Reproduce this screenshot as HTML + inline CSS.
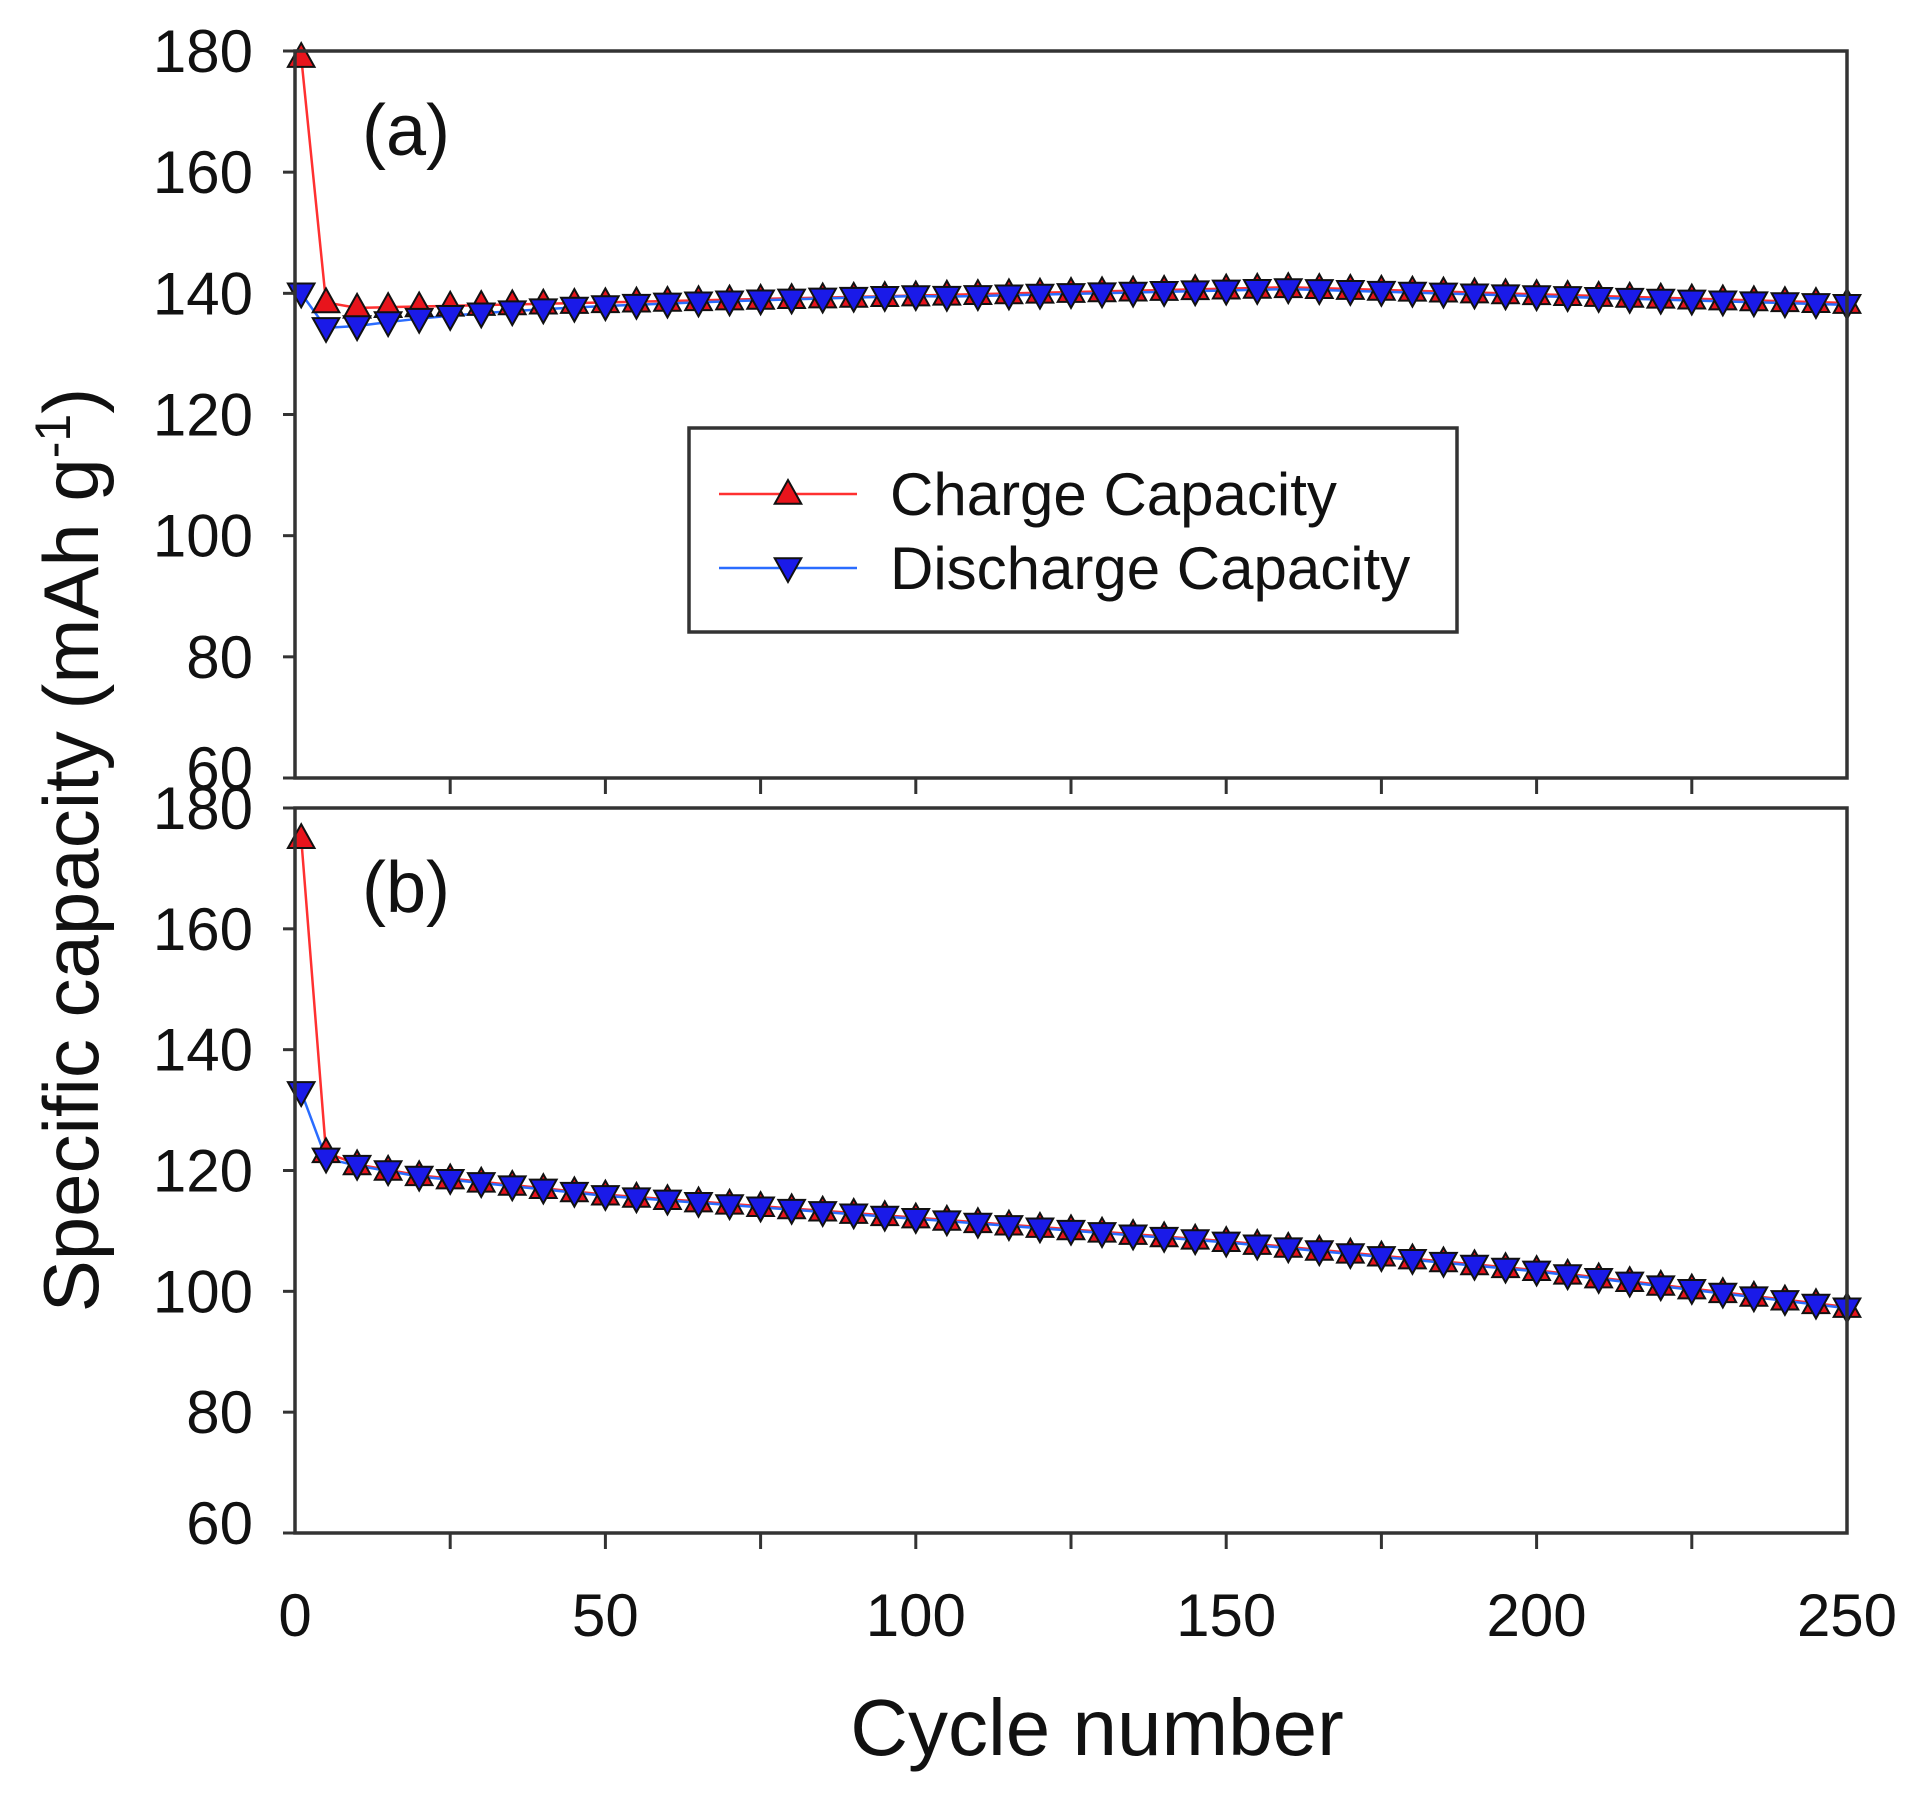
<!DOCTYPE html>
<html><head><meta charset="utf-8"><style>
html,body{margin:0;padding:0;background:#fff;}
svg{display:block;}
text{font-family:"Liberation Sans",sans-serif;fill:#111;}
</style></head><body>
<svg id="s" width="1912" height="1801" viewBox="0 0 1912 1801" xmlns="http://www.w3.org/2000/svg"></svg>
<script>
const s=document.getElementById('s');
let h='';
const X0=295,X1=1847;
const xs=c=>X0+c*(X1-X0)/250;
const panels=[{t:51,b:778,lab:'(a)'},{t:808,b:1533,lab:'(b)'}];
function ys(p,v){return p.b-(v-60)*(p.b-p.t)/120;}
const cyc=[1];for(let c=5;c<=250;c+=5)cyc.push(c);
function aC(c){if(c==1)return 179;if(c==5)return 138.5;if(c<=160)return 137.6+3.4*(c-10)/150;return 141-2.6*(c-160)/90;}
function aD(c){if(c==1)return 140;if(c==5)return 134.3;let base=aC(c);if(c<=100){return base-(3.0*Math.exp(-(c-10)/25));}return base-0.3;}
function bC(c){if(c==1)return 175;if(c==5)return 123;return lin(c);}
function bD(c){if(c==1)return 133;if(c==5)return 122;return lin(c)-0.2;}
function lin(c){const pts=[[10,121],[20,119.2],[50,116],[100,112.2],[150,108.3],[200,103.5],[250,97.4]];for(let i=1;i<pts.length;i++){if(c<=pts[i][0]){const[a,b]=[pts[i-1],pts[i]];return a[1]+(b[1]-a[1])*(c-a[0])/(b[0]-a[0]);}}return 97.4;}
const series=[[aC,aD],[bC,bD]];
function up(x,y,r){return `<polygon points="${x},${y-r} ${x-r*0.95},${y+r*0.7} ${x+r*0.95},${y+r*0.7}" fill="#e8141c" stroke="#111" stroke-width="2"/>`;}
function dn(x,y,r){return `<polygon points="${x},${y+r} ${x-r*0.95},${y-r*0.7} ${x+r*0.95},${y-r*0.7}" fill="#1a1ae8" stroke="#111" stroke-width="2"/>`;}
panels.forEach((p,i)=>{
  const [fc,fd]=series[i];
  let pc=cyc.map(c=>xs(c)+','+ys(p,fc(c))).join(' ');
  let pd=cyc.map(c=>xs(c)+','+ys(p,fd(c))).join(' ');
  h+=`<polyline points="${pc}" fill="none" stroke="#ff3030" stroke-width="2.5"/>`;
  h+=`<polyline points="${pd}" fill="none" stroke="#2a6cff" stroke-width="2.5"/>`;
  cyc.forEach(c=>{h+=up(xs(c),ys(p,fc(c)),14);});
  cyc.forEach(c=>{h+=dn(xs(c),ys(p,fd(c)),14);});
  h+=`<rect x="${X0}" y="${p.t}" width="${X1-X0}" height="${p.b-p.t}" fill="none" stroke="#333" stroke-width="3.5"/>`;
  for(let v=60;v<=180;v+=20){const y=ys(p,v)-(v==60?10:0);
    h+=`<line x1="${X0-12}" y1="${ys(p,v)}" x2="${X0}" y2="${ys(p,v)}" stroke="#333" stroke-width="3"/>`;
    h+=`<text x="${X0-42}" y="${y+21}" font-size="60" text-anchor="end">${v}</text>`;}
  for(let c=25;c<250;c+=25){const x=xs(c);
    h+=`<line x1="${x}" y1="${p.b}" x2="${x}" y2="${p.b+16}" stroke="#333" stroke-width="3"/>`;}
  h+=`<text x="362" y="${p.t+104}" font-size="72">${p.lab}</text>`;
});
for(let c=0;c<=250;c+=50){h+=`<text x="${xs(c)}" y="1636" font-size="60" text-anchor="middle">${c}</text>`;}
h+=`<text x="1097" y="1755" font-size="80" text-anchor="middle">Cycle number</text>`;
h+=`<text transform="translate(98,850) rotate(-90)" font-size="78" text-anchor="middle">Specific capacity (mAh g<tspan dy="-28" font-size="50">-1</tspan><tspan dy="28">)</tspan></text>`;
h+=`<rect x="689" y="428" width="768" height="204" fill="#fff" stroke="#333" stroke-width="3.5"/>`;
h+=`<line x1="719" y1="494" x2="857" y2="494" stroke="#ff3030" stroke-width="2.5"/>`+up(788,494,14);
h+=`<line x1="719" y1="568" x2="857" y2="568" stroke="#2a6cff" stroke-width="2.5"/>`+dn(788,568,14);
h+=`<text x="890" y="515" font-size="60">Charge Capacity</text>`;
h+=`<text x="890" y="589" font-size="60">Discharge Capacity</text>`;
s.innerHTML=h;
</script>
</body></html>
